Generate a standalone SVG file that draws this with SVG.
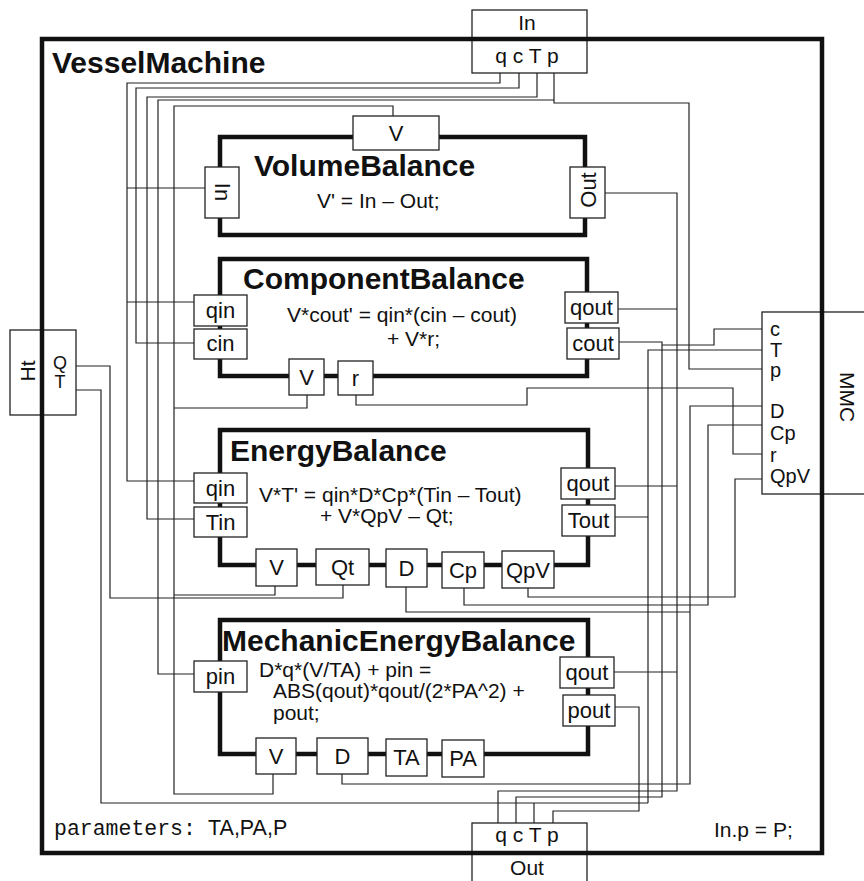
<svg xmlns="http://www.w3.org/2000/svg" width="864" height="881" viewBox="0 0 864 881">
<style>
.bg{fill:#fff}
.outer{fill:none;stroke:#111;stroke-width:4.5}
.blk{fill:none;stroke:#111;stroke-width:4.5}
.ext{fill:#fff;stroke:#222;stroke-width:1.3}
.port{fill:#fff;stroke:#222;stroke-width:1.3}
.w{fill:none;stroke:#222;stroke-width:1.2}
text{font-family:"Liberation Sans",Arial,Helvetica,sans-serif;fill:#111}
.title{font-size:30px;font-weight:bold}
.lbl{font-size:22px;text-anchor:middle}
.eq{font-size:21px}
.ml{font-size:20px}
.mono{font-family:"Liberation Mono","Courier New",monospace}
</style>
<rect class="bg" x="0" y="0" width="864" height="881"/>

<g id="In">
<rect class="ext" x="472" y="10" width="115" height="63"/>
<text class="lbl" x="527" y="30" style="font-size:21px">In</text>
<text class="lbl" x="527" y="63" style="font-size:21px">q c T p</text>
</g>
<g id="Out">
<rect class="ext" x="472" y="823" width="115" height="70"/>
<text class="lbl" x="527" y="842" style="font-size:21px">q c T p</text>
<text class="lbl" x="527" y="875" style="font-size:21px">Out</text>
</g>
<g id="Ht">
<rect class="ext" x="10" y="330" width="66" height="85"/>
<text class="lbl" transform="translate(35,371) rotate(-90)" style="font-size:21px">Ht</text>
<text class="lbl" x="60" y="369" style="font-size:18px">Q</text>
<text class="lbl" x="60" y="388" style="font-size:18px">T</text>
</g>
<g id="MMC">
<rect class="ext" x="762" y="312" width="110" height="182"/>
<text class="ml" x="770" y="336">c</text>
<text class="ml" x="770" y="357">T</text>
<text class="ml" x="770" y="377">p</text>
<text class="ml" x="770" y="418">D</text>
<text class="ml" x="770" y="440">Cp</text>
<text class="ml" x="770" y="462">r</text>
<text class="ml" x="770" y="483">QpV</text>
<text class="lbl" transform="translate(840,397) rotate(90)" style="font-size:21px">MMC</text>
</g>

<g id="VesselMachine">
<rect class="outer" x="42" y="39" width="780" height="814"/>
<text class="title" x="52" y="73">VesselMachine</text>
<text x="54" y="835" style="font-size:21.5px"><tspan class="mono">parameters:</tspan><tspan x="208">TA,PA,P</tspan></text>
<text x="714" y="837" style="font-size:21px">In.p = P;</text>
</g>

<g id="connectors">
<path class="w" d="M500,73 V83 H127 V481 H194 M127,188 H205 M127,302 H194"/>
<path class="w" d="M519,73 V88 H136 V343 H194"/>
<path class="w" d="M537,73 V97 H147 V519 H194"/>
<path class="w" d="M554,73 V103 H689 V369 H762 M554,100 H158 V674 H194"/>
<path class="w" d="M393,116 V106 H174 V794 H273 V774 M174,408 H307 V395 M174,595 H275 V586"/>
<path class="w" d="M605,193 H677 V791 H498 V823 M618,309 H677 M615,486 H677 M614,672 H677"/>
<path class="w" d="M619,342 H662 V797 H516 V823 M762,329 H714 V345 H662"/>
<path class="w" d="M762,350 H648 V803 M615,517 H648 M76,390 H101 V803 H648 M534,823 V803"/>
<path class="w" d="M762,406 H690 V784 H342 V774 M406,587 V612 H690"/>
<path class="w" d="M762,425 H708 V605 H464 V588"/>
<path class="w" d="M762,479 H735 V597 H528 V588"/>
<path class="w" d="M762,454 H733 V388 H527 V405 H356 V395"/>
<path class="w" d="M76,366 H110 V598 H343 V585"/>
<path class="w" d="M615,707 H639 V811 H553 V823"/>
</g>

<g id="VolumeBalance">
<rect class="blk" x="220" y="137" width="365" height="98"/>
<rect class="port" x="353" y="116" width="86" height="34"/>
<text class="lbl" x="396" y="141">V</text>
<rect class="port" x="205" y="167" width="34" height="51"/>
<text class="lbl" transform="translate(215,192) rotate(90)">In</text>
<rect class="port" x="570" y="167" width="35" height="51"/>
<text class="lbl" transform="translate(596,190) rotate(-90)">Out</text>
<text class="title" x="254" y="176">VolumeBalance</text>
<text class="eq" x="317" y="208">V' = In – Out;</text>
</g>

<g id="ComponentBalance">
<rect class="blk" x="220" y="259" width="367" height="117"/>
<rect class="port" x="194" y="295" width="53" height="31"/>
<text class="lbl" x="220.5" y="318">qin</text>
<rect class="port" x="194" y="329" width="53" height="30"/>
<text class="lbl" x="220.5" y="351">cin</text>
<rect class="port" x="565" y="292" width="53" height="31"/>
<text class="lbl" x="591.5" y="315">qout</text>
<rect class="port" x="567" y="328" width="52" height="31"/>
<text class="lbl" x="593" y="351">cout</text>
<rect class="port" x="289" y="359" width="35" height="36"/>
<text class="lbl" x="306.5" y="385">V</text>
<rect class="port" x="338" y="361" width="35" height="34"/>
<text class="lbl" x="355.5" y="386">r</text>
<text class="title" x="243" y="289">ComponentBalance</text>
<text class="eq" x="287" y="322">V*cout' = qin*(cin – cout)</text>
<text class="eq" x="387" y="346">+ V*r;</text>
</g>

<g id="EnergyBalance">
<rect class="blk" x="220" y="430" width="368" height="135"/>
<rect class="port" x="194" y="473" width="53" height="30"/>
<text class="lbl" x="220.5" y="496">qin</text>
<rect class="port" x="194" y="507" width="53" height="30"/>
<text class="lbl" x="220.5" y="530">Tin</text>
<rect class="port" x="561" y="468" width="54" height="31"/>
<text class="lbl" x="588" y="491">qout</text>
<rect class="port" x="562" y="505" width="53" height="31"/>
<text class="lbl" x="588.5" y="528">Tout</text>
<rect class="port" x="256" y="549" width="41" height="37"/>
<text class="lbl" x="276.5" y="575">V</text>
<rect class="port" x="316" y="549" width="53" height="36"/>
<text class="lbl" x="342.5" y="575">Qt</text>
<rect class="port" x="386" y="549" width="41" height="38"/>
<text class="lbl" x="406.5" y="576">D</text>
<rect class="port" x="442" y="552" width="42" height="36"/>
<text class="lbl" x="463" y="578">Cp</text>
<rect class="port" x="502" y="551" width="52" height="37"/>
<text class="lbl" x="528" y="578">QpV</text>
<text class="title" x="230" y="461">EnergyBalance</text>
<text class="eq" x="259" y="502">V*T' = qin*D*Cp*(Tin – Tout)</text>
<text class="eq" x="320" y="523">+ V*QpV – Qt;</text>
</g>

<g id="MechanicEnergyBalance">
<rect class="blk" x="220" y="620" width="368" height="134"/>
<rect class="port" x="194" y="661" width="53" height="31"/>
<text class="lbl" x="220.5" y="684">pin</text>
<rect class="port" x="560" y="657" width="54" height="31"/>
<text class="lbl" x="587" y="680">qout</text>
<rect class="port" x="563" y="695" width="52" height="31"/>
<text class="lbl" x="589" y="718">pout</text>
<rect class="port" x="256" y="738" width="40" height="36"/>
<text class="lbl" x="276" y="764">V</text>
<rect class="port" x="317" y="738" width="51" height="36"/>
<text class="lbl" x="342.5" y="764">D</text>
<rect class="port" x="386" y="739" width="41" height="37"/>
<text class="lbl" x="406.5" y="765">TA</text>
<rect class="port" x="442" y="740" width="42" height="37"/>
<text class="lbl" x="463" y="766">PA</text>
<text class="title" x="222" y="651">MechanicEnergyBalance</text>
<text class="eq" x="259" y="677">D*q*(V/TA) + pin =</text>
<text class="eq" x="273" y="698">ABS(qout)*qout/(2*PA^2) +</text>
<text class="eq" x="273" y="720">pout;</text>
</g>
</svg>
